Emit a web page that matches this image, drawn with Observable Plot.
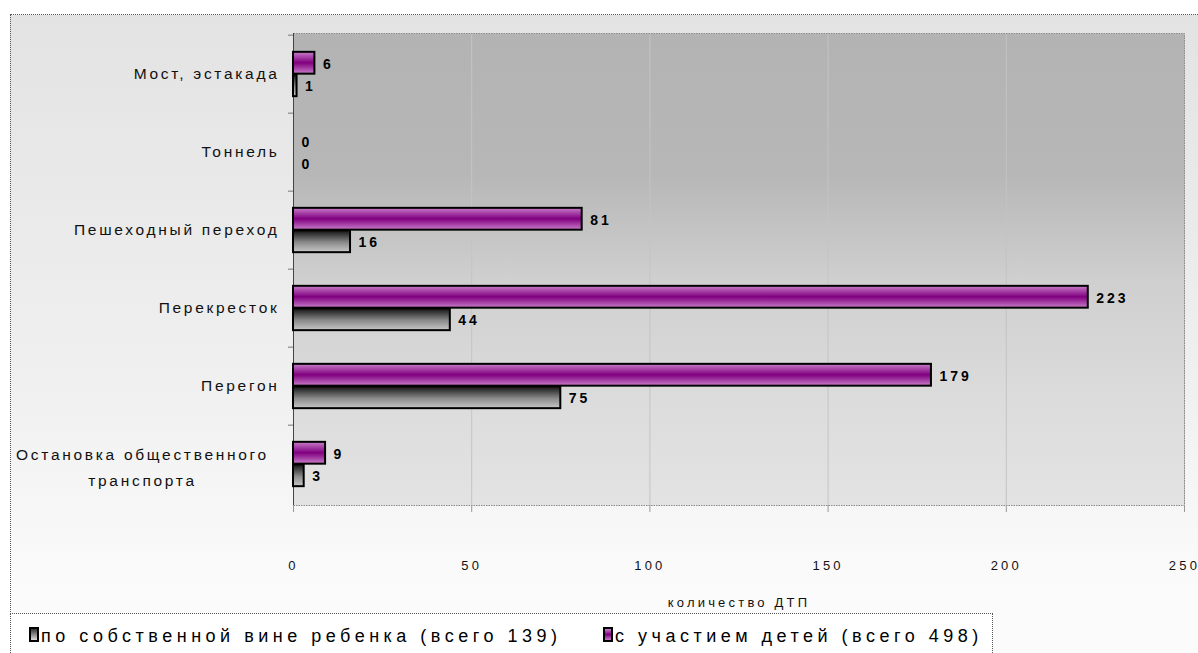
<!DOCTYPE html>
<html><head><meta charset="utf-8">
<script src="https://cdn.jsdelivr.net/npm/d3@7"></script>
<script src="https://cdn.jsdelivr.net/npm/@observablehq/plot@0.6"></script>
<style>
body{margin:0;background:#fff;font-family:"Liberation Sans",Arial,sans-serif;}
#wrap{position:relative;width:1198px;height:653px;overflow:hidden;}
#frame{position:absolute;left:10px;top:14px;width:1220px;height:680px;border:1px dotted #555;box-sizing:border-box;background:linear-gradient(#e3e3e3 0%,#f0f0f0 55%,#fbfbfb 85%);}
#chart{position:absolute;left:0;top:0;z-index:2;pointer-events:none;}
#legend{position:absolute;left:10px;top:613px;width:983px;height:60px;border:1px dotted #555;box-sizing:border-box;background:#fff;font-size:18px;letter-spacing:4.5px;color:#000;z-index:1;}
.item{position:absolute;top:11px;white-space:nowrap;line-height:22px;}
.sw{display:inline-block;width:6px;height:11px;border:2px solid #000;vertical-align:0px;margin-right:2px;}
.catlabel text, text[aria-label="catlabel"]{letter-spacing:2.7px;}
.vallabel text, text[aria-label="vallabel"]{letter-spacing:3px;}
.xlabel text, text[aria-label="xlabel"]{letter-spacing:3.2px;}
g[aria-label="x-axis tick label"] text{letter-spacing:3.2px;}
</style></head>
<body>
<div id="wrap">
  <div id="frame"></div>
  <div id="legend"></div>
  <div id="chart"></div>
</div>
<script>
const categories = ["Мост, эстакада","Тоннель","Пешеходный переход","Перекресток","Перегон","Остановка общественного\nтранспорта"];
const withChildren = [6,0,81,223,179,9];
const childFault = [1,0,16,44,75,3];
const seriesNames = ["с участием детей (всего 498)","по собственной вине ребенка (всего 139)"];
const xTicks = [0,50,100,150,200,250];
const xLabel = "количество ДТП";

const purple = categories.map((c,i)=>({cat:c, value:withChildren[i]}));
const gray = categories.map((c,i)=>({cat:c, value:childFault[i]}));

const W = 1198, H = 611, mT = 33, mB = 106, mL = 293, mR = 14;
const bw = (H - mT - mB) / categories.length;
const barH = 22.5;
const outer = (bw - 2*barH)/2;

const defs = () => {
  const ns = "http://www.w3.org/2000/svg";
  const g = document.createElementNS(ns, "defs");
  g.innerHTML = `
  <linearGradient id="gPlot" x1="0" y1="0" x2="0" y2="1">
    <stop offset="0" stop-color="#b3b3b3"/><stop offset="0.3" stop-color="#b7b7b7"/>
    <stop offset="0.52" stop-color="#cfcfcf"/><stop offset="0.78" stop-color="#dcdcdc"/>
    <stop offset="1" stop-color="#e3e3e3"/></linearGradient>
  <linearGradient id="gPurple" x1="0" y1="0" x2="0" y2="1">
    <stop offset="0" stop-color="#c97dc9"/><stop offset="0.5" stop-color="#800080"/>
    <stop offset="1" stop-color="#c97dc9"/></linearGradient>
  <linearGradient id="gGray" x1="0" y1="0" x2="0" y2="1">
    <stop offset="0" stop-color="#111"/><stop offset="0.55" stop-color="#8a8a8a"/>
    <stop offset="1" stop-color="#c8c8c8"/></linearGradient>`;
  return g;
};

const single = categories.filter(c => !c.includes("\n"));
const multi = categories.filter(c => c.includes("\n"));
const tag = name => ({className: name, ariaLabel: () => name});

const chart = Plot.plot({
  width: W, height: H,
  marginTop: mT, marginBottom: mB, marginLeft: mL, marginRight: mR,
  style: {background: "transparent", fontFamily: "'Liberation Sans', Arial, sans-serif", overflow: "visible"},
  x: {domain: [0, 250], ticks: xTicks, label: null},
  y: {domain: categories, padding: 0, axis: null, label: null},
  marks: [
    defs,
    Plot.frame({fill: "url(#gPlot)", stroke: null}),
    Plot.gridX(xTicks, {stroke: "#c4c4c4", strokeOpacity: 1}),
    Plot.frame({stroke: "#8a8a8a", strokeDasharray: "1.5,1"}),
    Plot.ruleX([0], {stroke: "#444"}),
    Plot.axisX({ticks: xTicks, tickSize: 7, tickPadding: 48, stroke: "#999", fill: "#111", fontSize: 13, label: null}),
    Plot.axisY({ticks: categories, tickSize: 5, dy: -bw/2, tickFormat: () => "", stroke: "#777", label: null}),
    Plot.text([xLabel], {frameAnchor: "bottom", dy: 101, fontSize: 13, fill: "#111", ...tag("xlabel")}),
    Plot.text(single, {y: d => d, frameAnchor: "left", dx: -14, textAnchor: "end", fontSize: 15.5, fill: "#111", ...tag("catlabel")}),
    Plot.text(multi, {y: d => d, frameAnchor: "left", dx: -151, textAnchor: "middle", fontSize: 15.5, lineHeight: 1.68, fill: "#111", ...tag("catlabel")}),
    Plot.barX(purple.filter(d => d.value > 0), {x: "value", y: "cat", fill: "url(#gPurple)", stroke: "#000", strokeWidth: 2, insetTop: outer, insetBottom: bw - outer - barH}),
    Plot.barX(gray.filter(d => d.value > 0), {x: "value", y: "cat", fill: "url(#gGray)", stroke: "#000", strokeWidth: 2, insetTop: outer + barH, insetBottom: outer}),
    Plot.text(purple, {x: "value", y: "cat", text: d => String(d.value), dx: 8, dy: -barH/2 + 1, textAnchor: "start", fontWeight: "bold", fontSize: 14, fill: "#000", ...tag("vallabel")}),
    Plot.text(gray, {x: "value", y: "cat", text: d => String(d.value), dx: 8, dy: barH/2 + 1, textAnchor: "start", fontWeight: "bold", fontSize: 14, fill: "#000", ...tag("vallabel")})
  ]
});
document.getElementById("chart").append(chart);

const legend = document.getElementById("legend");
const items = [
  {name: seriesNames[1], grad: "linear-gradient(#333,#ddd)", left: 18},
  {name: seriesNames[0], grad: "linear-gradient(#c97dc9,#800080 50%,#c97dc9)", left: 592}
];
for (const it of items) {
  const d = document.createElement("div");
  d.className = "item";
  d.style.left = it.left + "px";
  const s = document.createElement("span");
  s.className = "sw";
  s.style.background = it.grad;
  d.append(s, document.createTextNode(it.name));
  legend.append(d);
}
</script>
</body></html>
